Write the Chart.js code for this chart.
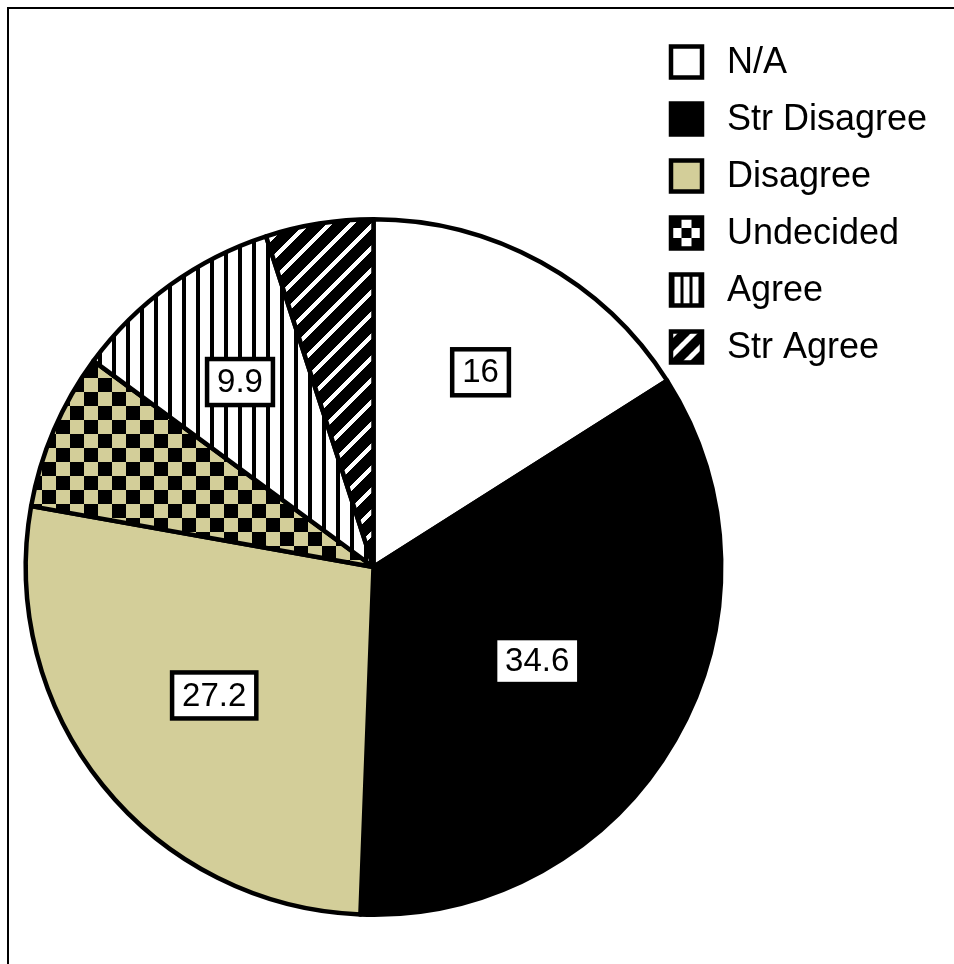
<!DOCTYPE html>
<html>
<head>
<meta charset="utf-8">
<script src="https://cdn.jsdelivr.net/npm/chart.js@4"></script>
<style>
  html, body { margin: 0; background: #fff; }
  #wrap { position: relative; width: 954px; height: 964px; overflow: hidden; }
  #frame { position: absolute; left: 7px; top: 7px; width: 1000px; height: 1000px;
           border-top: 2.5px solid #000; border-left: 2px solid #000; }
  #pie { position: absolute; left: 0; top: 0; }
</style>
</head>
<body>
<div id="wrap">
  <div id="frame"></div>
  <canvas id="pie" width="954" height="964"></canvas>
</div>
<script>
const LABELS = ["N/A", "Str Disagree", "Disagree", "Undecided", "Agree", "Str Agree"];
const VALUES = [16, 34.6, 27.2, 7.3, 9.9, 5.0];
const MIN_LABELLED = 8; // smaller slices get no value box

const KHAKI = "#d3ce99";
const FONT = '"Liberation Sans", Arial, sans-serif';

// fill kinds, one per slice, in LABELS order
const FILLS = ["white", "black", "khaki", "checker", "vstripe", "diag"];

function tile(size, paint) {
  const c = document.createElement("canvas");
  c.width = c.height = size;
  paint(c.getContext("2d"), size);
  return c;
}

function makeFill(ctx, kind, small) {
  if (kind === "white") return "#fff";
  if (kind === "black") return "#000";
  if (kind === "khaki") return KHAKI;
  let t;
  if (kind === "checker") {
    const cell = small ? 10 : 14;
    const light = small ? "#fff" : KHAKI;
    t = tile(cell * 2, (g, s) => {
      g.fillStyle = light; g.fillRect(0, 0, s, s);
      g.fillStyle = "#000";
      g.fillRect(0, 0, cell, cell);
      g.fillRect(cell, cell, cell, cell);
    });
  } else if (kind === "vstripe") {
    const step = small ? 9 : 14, lw = small ? 3 : 4;
    t = tile(step, (g, s) => {
      g.fillStyle = "#fff"; g.fillRect(0, 0, s, s);
      g.fillStyle = "#000"; g.fillRect(0, 0, lw, s);
    });
  } else {
    // "/" hatching, painted row by row so the tile seams stay clean
    const step = small ? 20 : 22, white = small ? 7 : 6;
    t = tile(step, (g, s) => {
      g.fillStyle = "#000"; g.fillRect(0, 0, s, s);
      g.fillStyle = "#fff";
      for (let y = 0; y < s; y++) {
        const x0 = (s - y) % s;
        g.fillRect(x0, y, white, 1);
        if (x0 + white > s) g.fillRect(x0 - s, y, white, 1);
      }
    });
  }
  return ctx.createPattern(t, "repeat");
}

// white boxed value at each labelled slice's centroid
const valueBoxes = {
  id: "valueBoxes",
  afterDatasetsDraw(chart) {
    const ctx = chart.ctx;
    const arcs = chart.getDatasetMeta(0).data;
    ctx.save();
    ctx.font = `33px ${FONT}`;
    ctx.textAlign = "center";
    ctx.textBaseline = "middle";
    arcs.forEach((arc, i) => {
      if (VALUES[i] < MIN_LABELLED) return;
      const { x, y, startAngle, endAngle, outerRadius } = arc.getProps(["x", "y", "startAngle", "endAngle", "outerRadius"], true);
      const half = (endAngle - startAngle) / 2;
      const mid = startAngle + half;
      const d = (2 * outerRadius * Math.sin(half)) / (3 * half);
      const cx = x + d * Math.cos(mid), cy = y + d * Math.sin(mid);
      const text = String(VALUES[i]);
      const w = ctx.measureText(text).width + 20, h = 46;
      ctx.fillStyle = "#fff";
      ctx.fillRect(cx - w / 2, cy - h / 2, w, h);
      ctx.lineWidth = 4.5;
      ctx.strokeStyle = "#000";
      ctx.strokeRect(cx - w / 2, cy - h / 2, w, h);
      ctx.fillStyle = "#000";
      ctx.fillText(text, cx, cy + 1);
    });
    ctx.restore();
  },
};

// legend column in the upper right corner
const sideLegend = {
  id: "sideLegend",
  afterDraw(chart) {
    const ctx = chart.ctx;
    const bx = 671, box = 31, top = 62, gap = 57;
    ctx.save();
    ctx.font = `36px ${FONT}`;
    ctx.textBaseline = "middle";
    LABELS.forEach((label, i) => {
      const cy = top + i * gap;
      const by = cy - box / 2;
      const fill = makeFill(ctx, FILLS[i], true);
      if (fill instanceof CanvasPattern) fill.setTransform(new DOMMatrix().translate(bx + 0.5, by + 0.5));
      ctx.fillStyle = fill;
      ctx.fillRect(bx, by, box, box);
      ctx.lineWidth = 4.5;
      ctx.strokeStyle = "#000";
      ctx.strokeRect(bx, by, box, box);
      ctx.fillStyle = "#000";
      ctx.fillText(label, 727, cy + 1);
    });
    ctx.restore();
  },
};

const canvas = document.getElementById("pie");
const c2d = canvas.getContext("2d");

new Chart(canvas, {
  type: "pie",
  data: {
    labels: LABELS,
    datasets: [{
      data: VALUES,
      backgroundColor: FILLS.map((k) => makeFill(c2d, k, false)),
      borderColor: "#000",
      borderWidth: 4.5,
      borderJoinStyle: "round",
    }],
  },
  options: {
    responsive: false,
    animation: false,
    events: [],
    layout: { padding: { left: 23, right: 230, top: 217, bottom: 47 } },
    plugins: { legend: { display: false }, tooltip: { enabled: false } },
  },
  plugins: [valueBoxes, sideLegend],
});
</script>
</body>
</html>
